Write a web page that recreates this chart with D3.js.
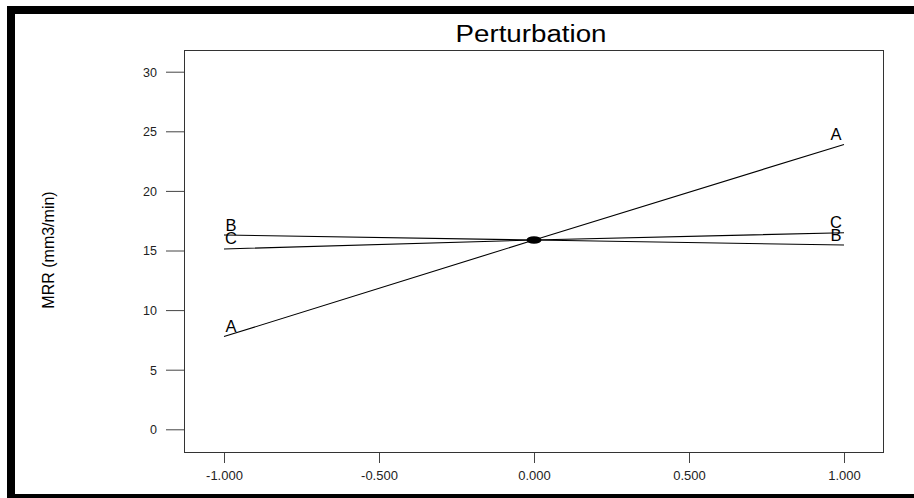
<!DOCTYPE html>
<html>
<head>
<meta charset="utf-8">
<script src="https://cdn.jsdelivr.net/npm/d3@7/dist/d3.min.js"></script>
<style>
  html, body { margin: 0; padding: 0; background: #fff; }
  svg { display: block; }
  text { font-family: "Liberation Sans", Arial, sans-serif; }
</style>
</head>
<body>
<svg id="chart" width="914" height="498"></svg>
<script>
// ---- data ----
const title = "Perturbation";
const yLabel = "MRR (mm3/min)";
const deviations = [-1, 0, 1];
const seriesNames = ["A", "B", "C"];
const valuesA = [7.78, 15.88, 23.9];
const valuesB = [16.3, 15.88, 15.46];
const valuesC = [15.13, 15.88, 16.49];
const xTickValues = [-1, -0.5, 0, 0.5, 1];
const xTickLabels = ["-1.000", "-0.500", "0.000", "0.500", "1.000"];
const yTickValues = [0, 5, 10, 15, 20, 25, 30];
const yTickLabels = ["0", "5", "10", "15", "20", "25", "30"];
const centerPoint = { x: 0, y: 15.88 };

// ---- drawing ----
const svg = d3.select("#chart");
svg.append("rect").attr("width", 914).attr("height", 498).attr("fill", "#fff");

// outer black frame (top, left, bottom)
svg.append("rect").attr("x", 7).attr("y", 6).attr("width", 907).attr("height", 8).attr("fill", "#000");
svg.append("rect").attr("x", 7).attr("y", 6).attr("width", 8).attr("height", 492).attr("fill", "#000");
svg.append("rect").attr("x", 7).attr("y", 494).attr("width", 907).attr("height", 4).attr("fill", "#000");

const plot = { left: 184, top: 50, right: 883, bottom: 452 };

const x = d3.scaleLinear().domain([-1, 1]).range([224, 844]);
const y = d3.scaleLinear().domain([0, 30]).range([429.3, 71.7]);

// y axis
const yAxis = svg.append("g")
  .attr("transform", `translate(${plot.left},0)`)
  .call(d3.axisLeft(y).tickValues(yTickValues).tickSize(18)
        .tickFormat((d, i) => yTickLabels[i]));
yAxis.select(".domain").remove();
yAxis.selectAll(".tick line").attr("stroke", "#444").attr("stroke-width", 1);
yAxis.selectAll(".tick text")
  .attr("x", -27).attr("dy", "0.35em")
  .attr("fill", "#222").style("font-size", "12.5px").style("font-family", "'Liberation Sans', Arial, sans-serif");

// x axis
const xAxis = svg.append("g")
  .attr("transform", `translate(0,${plot.bottom})`)
  .call(d3.axisBottom(x).tickValues(xTickValues).tickSize(11)
        .tickFormat((d, i) => xTickLabels[i]));
xAxis.select(".domain").remove();
xAxis.selectAll(".tick line").attr("stroke", "#444").attr("stroke-width", 1);
xAxis.selectAll(".tick text")
  .attr("y", 28).attr("dy", 0)
  .attr("fill", "#222").style("font-size", "13px").style("font-family", "'Liberation Sans', Arial, sans-serif");

// plot frame
svg.append("rect")
  .attr("x", plot.left + 0.5).attr("y", plot.top + 0.5)
  .attr("width", plot.right - plot.left).attr("height", plot.bottom - plot.top)
  .attr("fill", "none").attr("stroke", "#333").attr("stroke-width", 1);

// title
svg.append("text")
  .attr("x", 531).attr("y", 42)
  .attr("text-anchor", "middle")
  .attr("textLength", 151).attr("lengthAdjust", "spacingAndGlyphs")
  .style("font-size", "23px").attr("fill", "#000")
  .text(title);

// y label
svg.append("text")
  .attr("transform", "translate(54,250) rotate(-90)")
  .attr("text-anchor", "middle")
  .style("font-size", "16px").attr("fill", "#000")
  .text(yLabel);

// series lines
const seriesValues = [valuesA, valuesB, valuesC];
const line = d3.line().x(d => x(d[0])).y(d => y(d[1]));
seriesValues.forEach((vals, si) => {
  const pts = deviations.map((dv, i) => [dv, vals[i]]);
  svg.append("path")
    .attr("d", line(pts))
    .attr("fill", "none").attr("stroke", "#000").attr("stroke-width", 1.1);
  // labels at both ends
  const first = pts[0], last = pts[pts.length - 1];
  svg.append("text")
    .attr("x", x(first[0]) + 7).attr("y", y(first[1]) - 4.5)
    .attr("text-anchor", "middle")
    .style("font-size", "16.5px").attr("fill", "#000")
    .text(seriesNames[si]);
  svg.append("text")
    .attr("x", x(last[0]) - 8).attr("y", y(last[1]) - 4.5)
    .attr("text-anchor", "middle")
    .style("font-size", "16.5px").attr("fill", "#000")
    .text(seriesNames[si]);
});

// center reference point
svg.append("ellipse")
  .attr("cx", x(centerPoint.x)).attr("cy", y(centerPoint.y))
  .attr("rx", 7.5).attr("ry", 3.8).attr("fill", "#000");
</script>
</body>
</html>
